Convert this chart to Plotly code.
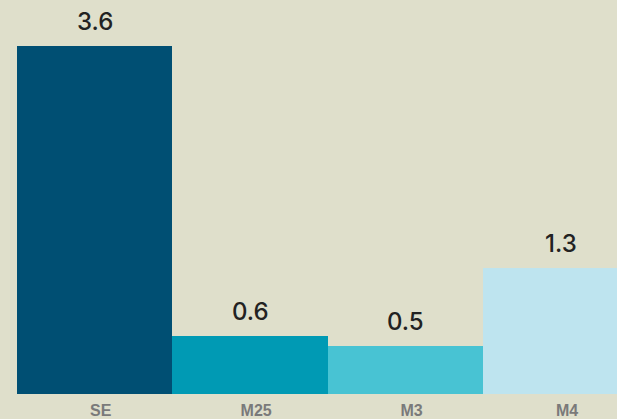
import plotly.graph_objects as go

categories = ["SE", "M25", "M3", "M4"]
values = [3.6, 0.6, 0.5, 1.3]
colors = ["#004F73", "#009AB4", "#48C3D3", "#BEE4EF"]
value_labels = ["3.6", "0.6", "0.5", "1.3"]

fig = go.Figure(go.Bar(
    x=categories, y=values, marker=dict(color=colors, line=dict(width=0)),
    hoverinfo="skip",
))

for c, v, t in zip(categories, values, value_labels):
    fig.add_annotation(x=c, y=v, text=t, showarrow=False, yanchor="bottom",
                       yshift=8,
                       font=dict(family="Inter, Liberation Sans, Arial", size=24, color="#222222", weight=500))

fig.update_layout(
    width=617, height=419,
    margin=dict(l=17, r=0, t=0, b=25),
    paper_bgcolor="#DFDFCB", plot_bgcolor="#DFDFCB",
    bargap=0, showlegend=False,
    xaxis=dict(range=[-0.5, 3.36], showgrid=False, zeroline=False, showline=False,
               ticks="", ticklabelshift=6, ticklabelstandoff=5,
               tickfont=dict(family="Liberation Sans, Arial", size=16, color="#7A7A7A", weight="bold")),
    yaxis=dict(range=[0, 4.076], visible=False, showgrid=False, zeroline=False),
)

fig.write_html("out.html")
